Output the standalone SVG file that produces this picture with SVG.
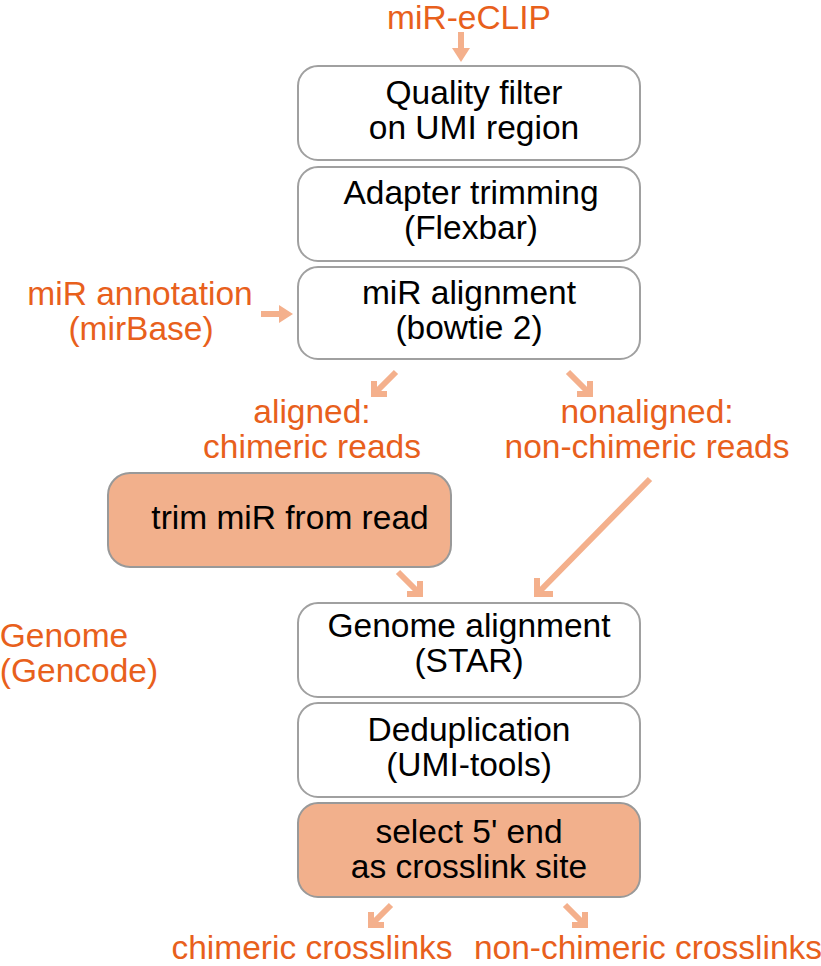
<svg xmlns="http://www.w3.org/2000/svg" width="821" height="966" viewBox="0 0 821 966">
<style>
.box{fill:#fff;stroke:#a0a0a0;stroke-width:2}
.fill{fill:#f2b08c;stroke:#999;stroke-width:2}
.t{font-family:"Liberation Sans",Arial,sans-serif;font-size:33.5px;fill:#000;text-anchor:middle}
.o{font-family:"Liberation Sans",Arial,sans-serif;font-size:33.5px;fill:#e8601c;text-anchor:middle}
.a{stroke:#f4b08c;stroke-width:6;fill:none}
.ah{fill:#f4b08c}
</style>
<rect width="821" height="966" fill="#fff"/>
<g id="connectors">
<line class="a" x1="461" y1="32" x2="461" y2="50"/>
<polygon class="ah" points="452,48 470,48 461,62"/>
<line class="a" x1="261" y1="314" x2="281" y2="314"/>
<polygon class="ah" points="279,305 279,323 293,314"/>
<path class="a" d="M396,372 L374,394 M374,381 L374,394 L387,394"/>
<path class="a" d="M568,372 L590,394 M590,381 L590,394 L577,394"/>
<path class="a" d="M398,572 L420,594 M420,581 L420,594 L407,594"/>
<path class="a" d="M650,479 L537,594 M537,578 L537,594 L553,594"/>
<path class="a" d="M391,905 L371,925 M371,912 L371,925 L384,925"/>
<path class="a" d="M565,905 L585,925 M585,912 L585,925 L572,925"/>
</g>
<g id="n1"><rect class="box" x="298" y="66" width="342" height="94" rx="20"/><text class="t" x="474" y="104">Quality filter</text><text class="t" x="474" y="139">on UMI region</text></g>
<g id="n2"><rect class="box" x="298" y="167" width="342" height="94" rx="20"/><text class="t" x="471" y="204">Adapter trimming</text><text class="t" x="471" y="239">(Flexbar)</text></g>
<g id="n3"><rect class="box" x="298" y="267" width="342" height="92" rx="20"/><text class="t" x="469" y="304">miR alignment</text><text class="t" x="469" y="339">(bowtie 2)</text></g>
<g id="n4"><rect class="fill" x="108" y="473" width="343" height="94" rx="22"/><text class="t" x="290" y="529">trim miR from read</text></g>
<g id="n5"><rect class="box" x="298" y="603" width="342" height="94" rx="20"/><text class="t" x="469" y="637">Genome alignment</text><text class="t" x="469" y="672">(STAR)</text></g>
<g id="n6"><rect class="box" x="298" y="703" width="342" height="94" rx="20"/><text class="t" x="469" y="741">Deduplication</text><text class="t" x="469" y="776">(UMI-tools)</text></g>
<g id="n7"><rect class="fill" x="298" y="803" width="342" height="94" rx="20"/><text class="t" x="469" y="843">select 5' end</text><text class="t" x="469" y="878">as crosslink site</text></g>
<g id="labels">
<text class="o" x="469" y="29">miR-eCLIP</text>
<text class="o" x="140" y="305">miR annotation</text>
<text class="o" x="141" y="340">(mirBase)</text>
<text class="o" x="312" y="423">aligned:</text>
<text class="o" x="312" y="458">chimeric reads</text>
<text class="o" x="647" y="423">nonaligned:</text>
<text class="o" x="647" y="458">non-chimeric reads</text>
<text class="o" x="64" y="647">Genome</text>
<text class="o" x="79" y="682">(Gencode)</text>
<text class="o" x="312" y="959">chimeric crosslinks</text>
<text class="o" x="648" y="959">non-chimeric crosslinks</text>
</g>
</svg>
